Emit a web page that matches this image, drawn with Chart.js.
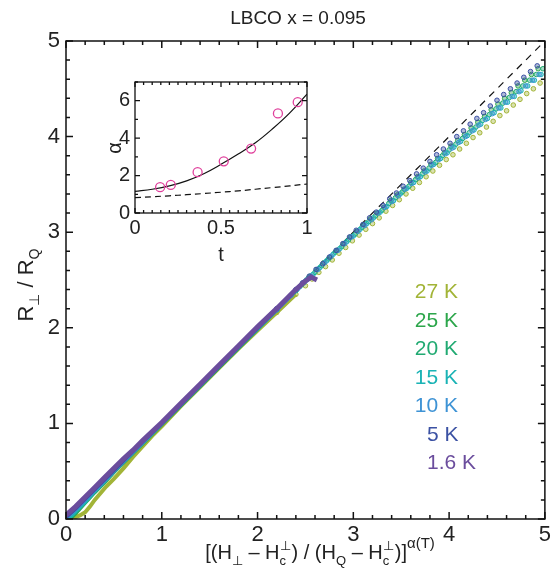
<!DOCTYPE html>
<html>
<head>
<meta charset="utf-8">
<title>LBCO x = 0.095</title>
<script src="https://cdn.jsdelivr.net/npm/chart.js@4.4.1/dist/chart.umd.min.js"></script>
<style>
  html, body { margin: 0; padding: 0; background: #fff; }
  #wrap { position: relative; width: 554px; height: 577px; }
  #main { position: absolute; left: 0; top: 0; width: 554px; height: 577px; }
  #inset { position: absolute; left: 95px; top: 65px; width: 222px; height: 200px; }
</style>
</head>
<body>
<div id="wrap">
  <canvas id="main" width="554" height="577"></canvas>
  <canvas id="inset" width="222" height="200"></canvas>
</div>
<script>
const FONT = "'Liberation Sans', Arial, Helvetica, sans-serif";

// temperatures and their colours
const temps = ['27 K', '25 K', '20 K', '15 K', '10 K', '5 K', '1.6 K'];
const tempColors = ['#a2b437', '#2ca64b', '#21aa72', '#1ab3b5', '#3e93d5', '#3b51a3', '#6b4d9d'];

// scaled resistance R/RQ vs scaled field, one [x, y] list per temperature
const k27 = [[0.06,0],[0.1,0.02],[0.15,0.04],[0.2,0.07],[0.25,0.13],[0.3,0.2],[0.36,0.27],[0.42,0.34],[0.5,0.42],[0.6,0.53],[0.7,0.65],[0.8,0.76],[0.9,0.87],[1.0,0.97],[1.2,1.18],[1.4,1.38],[1.6,1.58],[1.8,1.78],[2.0,1.97],[2.2,2.16],[2.4,2.35],
  [2.50,2.44],[2.57,2.51],[2.64,2.58],[2.71,2.64],[2.78,2.71],[2.85,2.78],[2.92,2.84],[2.99,2.91],[3.06,2.97],[3.13,3.03],[3.20,3.09],[3.27,3.15],[3.34,3.22],[3.41,3.28],[3.48,3.34],[3.55,3.40],[3.62,3.46],[3.69,3.52],[3.76,3.58],[3.83,3.64],[3.90,3.70],[3.97,3.76],[4.04,3.81],[4.11,3.87],[4.18,3.93],[4.25,3.99],[4.32,4.04],[4.39,4.10],[4.46,4.16],[4.53,4.22],[4.60,4.27],[4.67,4.33],[4.74,4.39],[4.81,4.45],[4.88,4.50],[4.95,4.56]];
const k25 = [[0.04,0],[0.1,0.06],[0.2,0.17],[0.3,0.28],[0.4,0.38],[0.5,0.49],[0.6,0.59],[0.8,0.79],[1.0,0.99],[1.2,1.19],[1.4,1.39],[1.6,1.59],[1.8,1.79],[2.0,1.99],[2.2,2.19],[2.4,2.39],
  [2.48,2.47],[2.55,2.54],[2.62,2.61],[2.69,2.68],[2.76,2.74],[2.83,2.81],[2.90,2.88],[2.97,2.95],[3.04,3.01],[3.11,3.08],[3.18,3.14],[3.25,3.20],[3.32,3.26],[3.39,3.33],[3.46,3.39],[3.53,3.45],[3.60,3.52],[3.67,3.58],[3.74,3.64],[3.81,3.71],[3.88,3.77],[3.95,3.83],[4.02,3.90],[4.09,3.96],[4.16,4.02],[4.23,4.09],[4.30,4.15],[4.37,4.21],[4.44,4.28],[4.51,4.34],[4.58,4.40],[4.65,4.46],[4.72,4.53],[4.79,4.59],[4.86,4.65],[4.93,4.71]];
const k20 = [[0.03,0],[0.1,0.07],[0.2,0.18],[0.3,0.29],[0.4,0.39],[0.5,0.5],[0.6,0.6],[0.8,0.8],[1.0,1.0],[1.2,1.2],[1.4,1.39],[1.6,1.6],[1.8,1.79],[2.0,2.0],[2.2,2.19],[2.4,2.39],
  [2.46,2.45],[2.53,2.52],[2.60,2.58],[2.67,2.65],[2.74,2.72],[2.81,2.79],[2.88,2.85],[2.95,2.92],[3.02,2.98],[3.09,3.05],[3.16,3.11],[3.23,3.17],[3.30,3.23],[3.37,3.30],[3.44,3.36],[3.51,3.42],[3.58,3.48],[3.65,3.55],[3.72,3.61],[3.79,3.67],[3.86,3.73],[3.93,3.80],[4.00,3.86],[4.07,3.92],[4.14,3.98],[4.21,4.04],[4.28,4.10],[4.35,4.17],[4.42,4.23],[4.49,4.29],[4.56,4.35],[4.63,4.41],[4.70,4.47],[4.77,4.53],[4.84,4.59],[4.91,4.65],[4.98,4.71]];
const k15 = [[0.03,0.01],[0.1,0.08],[0.2,0.18],[0.3,0.29],[0.4,0.39],[0.5,0.5],[0.6,0.6],[0.8,0.8],[1.0,1.0],[1.2,1.2],[1.4,1.4],[1.6,1.6],[1.8,1.8],[2.0,1.99],[2.2,2.19],[2.4,2.39],
  [2.44,2.43],[2.51,2.50],[2.58,2.56],[2.65,2.63],[2.72,2.70],[2.79,2.77],[2.86,2.83],[2.93,2.90],[3.00,2.96],[3.07,3.03],[3.14,3.09],[3.21,3.15],[3.28,3.21],[3.35,3.27],[3.42,3.33],[3.49,3.40],[3.56,3.46],[3.63,3.52],[3.70,3.58],[3.77,3.64],[3.84,3.71],[3.91,3.77],[3.98,3.83],[4.05,3.89],[4.12,3.95],[4.19,4.01],[4.26,4.07],[4.33,4.13],[4.40,4.19],[4.47,4.25],[4.54,4.30],[4.61,4.36],[4.68,4.42],[4.75,4.48],[4.82,4.53],[4.89,4.59],[4.96,4.65]];
const k10 = [[0,0.01],[0.1,0.1],[0.2,0.2],[0.3,0.3],[0.4,0.4],[0.5,0.5],[0.6,0.6],[0.8,0.8],[1.0,1.0],[1.2,1.2],[1.4,1.4],[1.6,1.6],[1.8,1.8],[2.0,2.0],[2.2,2.19],[2.35,2.34],
  [2.42,2.41],[2.49,2.48],[2.56,2.54],[2.63,2.61],[2.70,2.68],[2.77,2.75],[2.84,2.81],[2.91,2.88],[2.98,2.95],[3.05,3.01],[3.12,3.07],[3.19,3.13],[3.26,3.20],[3.33,3.26],[3.40,3.32],[3.47,3.38],[3.54,3.45],[3.61,3.51],[3.68,3.57],[3.75,3.63],[3.82,3.70],[3.89,3.76],[3.96,3.82],[4.03,3.88],[4.10,3.94],[4.17,4.00],[4.24,4.06],[4.31,4.12],[4.38,4.18],[4.45,4.24],[4.52,4.30],[4.59,4.36],[4.66,4.42],[4.73,4.47],[4.80,4.53],[4.87,4.59],[4.94,4.65]];
const k5 = [[0,0.02],[0.1,0.11],[0.2,0.21],[0.3,0.31],[0.4,0.41],[0.5,0.51],[0.6,0.61],[0.8,0.81],[1.0,1.0],[1.2,1.2],[1.4,1.4],[1.6,1.6],[1.8,1.8],[2.0,2.0],[2.2,2.2],[2.4,2.4],
  [2.47,2.47],[2.54,2.54],[2.61,2.61],[2.68,2.67],[2.75,2.74],[2.82,2.81],[2.89,2.88],[2.96,2.95],[3.03,3.02],[3.10,3.08],[3.17,3.15],[3.24,3.21],[3.31,3.28],[3.38,3.35],[3.45,3.41],[3.52,3.48],[3.59,3.54],[3.66,3.61],[3.73,3.67],[3.80,3.74],[3.87,3.81],[3.94,3.87],[4.01,3.93],[4.08,4.00],[4.15,4.06],[4.22,4.13],[4.29,4.19],[4.36,4.25],[4.43,4.32],[4.50,4.38],[4.57,4.44],[4.64,4.50],[4.71,4.56],[4.78,4.62],[4.85,4.68],[4.92,4.74]];
const k1p6 = [[0,0.04],[0.1,0.13],[0.2,0.23],[0.3,0.33],[0.4,0.43],[0.5,0.53],[0.6,0.63],[0.7,0.72],[0.8,0.82],[1.0,1.01],[1.2,1.21],[1.4,1.41],[1.6,1.61],[1.8,1.81],[2.0,2.01],[2.2,2.2],[2.4,2.4],[2.5,2.49],[2.56,2.53],[2.62,2.5]];
const seriesData = [k27, k25, k20, k15, k10, k5, k1p6];

const mainTicks = [0, 1, 2, 3, 4, 5];
const unityLine = [[0, 0], [5, 5]];

// inset: exponent alpha vs reduced temperature t
const insetXTicks = [0, 0.5, 1];
const insetYTicks = [0, 2, 4, 6];
const alphaT = [0.146, 0.208, 0.364, 0.516, 0.675, 0.831, 0.946];
const alphaVal = [1.38, 1.50, 2.18, 2.76, 3.44, 5.32, 5.92];
const fitT = [0, 0.1, 0.2, 0.3, 0.4, 0.5, 0.6, 0.7, 0.8, 0.9, 1.0];
const fitSolid = [1.15, 1.27, 1.45, 1.72, 2.1, 2.6, 3.15, 3.75, 4.5, 5.35, 6.35];
const fitDashed = [0.82, 0.87, 0.92, 0.98, 1.04, 1.11, 1.18, 1.27, 1.36, 1.45, 1.55];

// below this x the measured points sit so close that they merge into a band
const DENSE_END = 2.4;

const toXY = pairs => pairs.map(([x, y]) => ({ x, y }));
const zipXY = (xs, ys) => xs.map((x, i) => ({ x, y: ys[i] }));

// text with sub/superscripts, centred on x
function drawRich(ctx, parts, x, y, base) {
  const widths = parts.map(p => {
    ctx.font = `${p.s || base}px ${FONT}`;
    if (p.sup !== undefined) {
      return Math.max(ctx.measureText(p.sup).width, ctx.measureText(p.sub).width) + 1;
    }
    return ctx.measureText(p.t).width;
  });
  let cx = x - widths.reduce((a, b) => a + b, 0) / 2;
  ctx.textAlign = 'left';
  ctx.textBaseline = 'alphabetic';
  parts.forEach((p, i) => {
    ctx.font = `${p.s || base}px ${FONT}`;
    if (p.sup !== undefined) {
      ctx.fillText(p.sup, cx, y - 9);
      ctx.fillText(p.sub, cx, y + 6);
    } else {
      ctx.fillText(p.t, cx, y + (p.dy || 0));
    }
    cx += widths[i];
  });
}

// box frame with inward ticks on all four sides
const frameTicks = {
  id: 'frameTicks',
  afterDraw(chart, args, opts) {
    const { ctx, chartArea: a, scales: { x, y } } = chart;
    ctx.save();
    ctx.strokeStyle = '#111';
    ctx.lineWidth = opts.lineWidth;
    ctx.beginPath();
    const marks = (scale, minor, major, fn) => {
      const n = Math.round((scale.max - scale.min) / minor);
      for (let i = 0; i <= n; i++) {
        const v = scale.min + i * minor;
        const r = v / major;
        const len = Math.abs(r - Math.round(r)) < 1e-6 ? opts.major : opts.minor;
        fn(scale.getPixelForValue(v), len);
      }
    };
    marks(x, opts.xMinor, opts.xMajor, (p, len) => {
      ctx.moveTo(p, a.bottom); ctx.lineTo(p, a.bottom - len);
      ctx.moveTo(p, a.top); ctx.lineTo(p, a.top + len);
    });
    marks(y, opts.yMinor, opts.yMajor, (p, len) => {
      ctx.moveTo(a.left, p); ctx.lineTo(a.left + len, p);
      ctx.moveTo(a.right, p); ctx.lineTo(a.right - len, p);
    });
    ctx.stroke();
    ctx.strokeRect(a.left, a.top, a.right - a.left, a.bottom - a.top);
    ctx.restore();
  }
};

// title, axis titles and temperature labels of the main panel
const mainText = {
  id: 'mainText',
  afterDraw(chart) {
    const ctx = chart.ctx;
    ctx.save();
    ctx.fillStyle = '#222';
    ctx.font = `19px ${FONT}`;
    ctx.textAlign = 'center';
    ctx.textBaseline = 'alphabetic';
    ctx.fillText('LBCO x = 0.095', 298, 24);

    drawRich(ctx, [
      { t: '[(H' }, { t: '⊥', s: 13, dy: 6 }, { t: ' – H' }, { sup: '⊥', sub: 'c', s: 13 },
      { t: ') / (H' }, { t: 'Q', s: 13, dy: 6 }, { t: ' – H' }, { sup: '⊥', sub: 'c', s: 13 },
      { t: ')]' }, { t: 'α(T)', s: 15, dy: -11 }
    ], 320, 559, 20);

    ctx.save();
    ctx.translate(33, 285);
    ctx.rotate(-Math.PI / 2);
    drawRich(ctx, [{ t: 'R' }, { t: '⊥', s: 14, dy: 6 }, { t: ' / R' }, { t: 'Q', s: 14, dy: 6 }], 0, 0, 22);
    ctx.restore();

    ctx.font = `21px ${FONT}`;
    temps.forEach((label, i) => {
      const left = i >= 5;
      ctx.textAlign = left ? 'left' : 'right';
      ctx.fillStyle = tempColors[i];
      ctx.fillText(label, left ? 427 : 458, 298 + i * 28.5);
    });
    ctx.restore();
  }
};

const insetText = {
  id: 'insetText',
  afterDraw(chart) {
    const ctx = chart.ctx;
    ctx.save();
    ctx.fillStyle = '#222';
    ctx.font = `20px ${FONT}`;
    ctx.textAlign = 'center';
    ctx.textBaseline = 'alphabetic';
    ctx.fillText('t', 126, 196);
    ctx.translate(26, 83);
    ctx.rotate(-Math.PI / 2);
    ctx.fillText('α', 0, 0);
    ctx.restore();
  }
};

// first dataset is painted last, so 1.6 K ends up on top and the dashed y = x underneath
const mainDatasets = [];
for (let i = temps.length - 1; i >= 0; i--) {
  const c = tempColors[i];
  const lineEnd = i === 6 ? 5 : DENSE_END;
  mainDatasets.push({
    label: temps[i],
    data: toXY(seriesData[i]),
    showLine: true,
    borderColor: c,
    borderWidth: i === 6 ? 5 : 4,
    pointRadius: p => (p.parsed && p.parsed.x > lineEnd - 0.25 ? 2.3 : 0),
    pointBorderWidth: 1,
    pointBorderColor: c,
    pointBackgroundColor: c + '66',
    segment: { borderColor: s => s.p1.parsed.x > lineEnd + 1e-9 ? 'transparent' : undefined }
  });
}
mainDatasets.push({
  label: 'R = H',
  data: toXY(unityLine),
  showLine: true,
  borderColor: '#111',
  borderWidth: 1.2,
  borderDash: [7, 6],
  pointRadius: 0
});

const tickFont = size => ({ family: FONT, size });

new Chart(document.getElementById('main'), {
  type: 'scatter',
  data: { datasets: mainDatasets },
  options: {
    responsive: false,
    animation: false,
    devicePixelRatio: 1,
    layout: { padding: { top: 41, right: 7, left: 0, bottom: 0 } },
    plugins: {
      legend: { display: false },
      tooltip: { enabled: false },
      frameTicks: { lineWidth: 1.5, major: 7, minor: 4, xMinor: 0.2, xMajor: 1, yMinor: 0.2, yMajor: 1 }
    },
    scales: {
      x: {
        type: 'linear', min: 0, max: 5,
        afterBuildTicks: s => { s.ticks = mainTicks.map(v => ({ value: v })); },
        afterFit: s => { s.height = 58; },
        ticks: { font: tickFont(22), color: '#222', padding: 3, maxRotation: 0 },
        grid: { display: false, drawTicks: false },
        border: { display: false }
      },
      y: {
        type: 'linear', min: 0, max: 5,
        afterBuildTicks: s => { s.ticks = mainTicks.map(v => ({ value: v })); },
        afterFit: s => { s.width = 66; },
        ticks: { font: tickFont(22), color: '#222', padding: 6 },
        grid: { display: false, drawTicks: false },
        border: { display: false }
      }
    }
  },
  plugins: [frameTicks, mainText]
});

new Chart(document.getElementById('inset'), {
  type: 'scatter',
  data: {
    datasets: [{
      label: 'alpha',
      data: zipXY(alphaT, alphaVal),
      pointRadius: 4.5,
      pointBorderWidth: 1.3,
      pointBorderColor: '#e0409c',
      pointBackgroundColor: 'rgba(0,0,0,0)'
    }, {
      label: 'fit',
      data: zipXY(fitT, fitSolid),
      showLine: true,
      tension: 0.4,
      borderColor: '#111',
      borderWidth: 1.2,
      pointRadius: 0
    }, {
      label: 'lower',
      data: zipXY(fitT, fitDashed),
      showLine: true,
      tension: 0.4,
      borderColor: '#111',
      borderWidth: 1.2,
      borderDash: [6, 4],
      pointRadius: 0
    }]
  },
  options: {
    responsive: false,
    animation: false,
    devicePixelRatio: 1,
    layout: { padding: { top: 10, right: 10, left: 0, bottom: 0 } },
    plugins: {
      legend: { display: false },
      tooltip: { enabled: false },
      frameTicks: { lineWidth: 1.3, major: 5, minor: 3, xMinor: 0.05, xMajor: 0.5, yMinor: 1, yMajor: 2 }
    },
    scales: {
      x: {
        type: 'linear', min: 0, max: 1,
        afterBuildTicks: s => { s.ticks = insetXTicks.map(v => ({ value: v })); },
        afterFit: s => { s.height = 52; },
        ticks: { font: tickFont(20), color: '#222', padding: 3, maxRotation: 0, callback: v => String(v) },
        grid: { display: false, drawTicks: false },
        border: { display: false }
      },
      y: {
        type: 'linear', min: 0, max: 7,
        afterBuildTicks: s => { s.ticks = insetYTicks.map(v => ({ value: v })); },
        afterFit: s => { s.width = 40; },
        ticks: { font: tickFont(20), color: '#222', padding: 5 },
        grid: { display: false, drawTicks: false },
        border: { display: false }
      }
    }
  },
  plugins: [frameTicks, insetText]
});
</script>
</body>
</html>
